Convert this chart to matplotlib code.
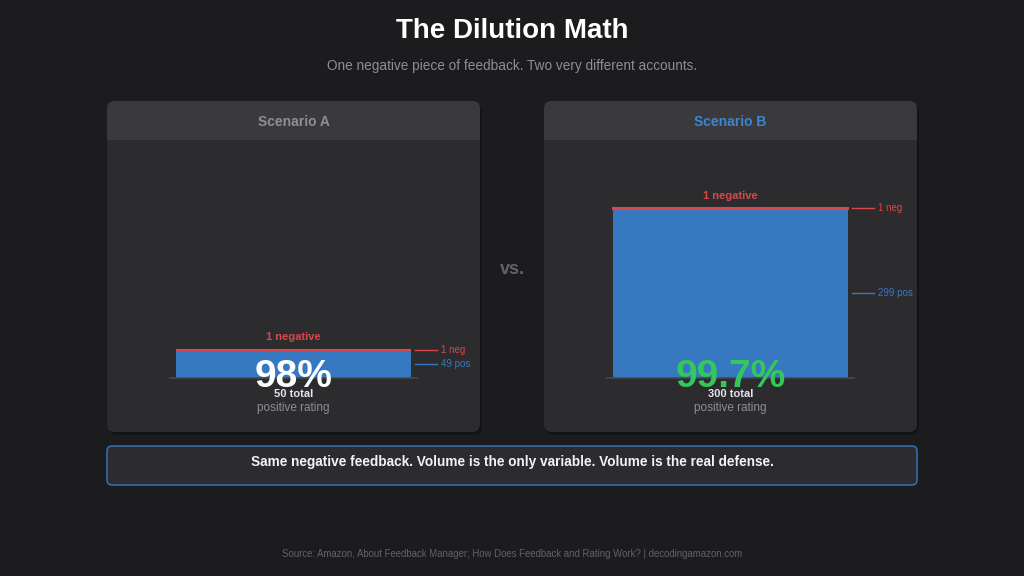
import matplotlib
matplotlib.use("Agg")
import matplotlib.pyplot as plt
from matplotlib.patches import FancyBboxPatch, Rectangle

plt.rcParams['font.family'] = ['Liberation Sans', 'DejaVu Sans']

# data
scenarios = ["Scenario A", "Scenario B"]
negatives = [1, 1]
positives = [49, 299]
ratings = ["98%", "99.7%"]

BG = '#1c1c1e'
PANEL = '#2c2c2e'
HEADER = '#3a3a3c'
BLUE = '#3679c1'
RED = '#d9474c'
GREEN = '#34c759'
GRAY = '#8e8e93'
DIM = '#636366'

fig = plt.figure(figsize=(10.24, 5.76), dpi=100, facecolor=BG)
bg = fig.add_axes([0, 0, 1, 1])
bg.set_xlim(0, 1024)
bg.set_ylim(576, 0)
bg.axis('off')

bg.text(512, 31, "The Dilution Math", ha='center', va='center', fontsize=20,
        fontweight='bold', color='white')
bg.text(512, 66, "One negative piece of feedback. Two very different accounts.",
        ha='center', va='center', fontsize=9.8, color=GRAY)

panel_x = [107, 544]
panel_w = 373
top, head_h, bottom = 101, 39, 432
title_colors = [GRAY, '#3a86d4']
pct_colors = ['white', GREEN]

def px_to_fig(x0, y0, w, h):
    return [x0 / 1024, 1 - (y0 + h) / 576, w / 1024, h / 576]

for i, name in enumerate(scenarios):
    x0 = panel_x[i]
    # shadow + panel
    bg.add_patch(FancyBboxPatch((x0 + 2, top + 3), panel_w, bottom - top,
                                boxstyle="round,pad=0,rounding_size=8",
                                fc='#141416', ec='none', zorder=1))
    bg.add_patch(FancyBboxPatch((x0, top), panel_w, bottom - top,
                                boxstyle="round,pad=0,rounding_size=8",
                                fc=PANEL, ec='none', zorder=2))
    bg.add_patch(FancyBboxPatch((x0, top), panel_w, head_h,
                                boxstyle="round,pad=0,rounding_size=8",
                                fc=HEADER, ec='none', zorder=3))
    bg.add_patch(Rectangle((x0, top + head_h - 12), panel_w, 12,
                           fc=HEADER, ec='none', zorder=3))
    bg.text(x0 + panel_w / 2, top + head_h / 2 + 1, name, ha='center', va='center',
            fontsize=10, fontweight='bold', color=title_colors[i], zorder=4)

    # bar axes over panel body; shared scale: 300 units = 170 px
    body_top = top + head_h
    ax = fig.add_axes(px_to_fig(x0, body_top, panel_w, bottom - body_top))
    ax.set_facecolor('none')
    ax.axis('off')
    upp = 300 / 170
    ax.set_xlim(0, panel_w)
    ax.set_ylim(-(bottom - 378) * upp, (378 - body_top) * upp)
    cx = panel_w / 2
    bw = 235
    pos, neg = positives[i], negatives[i]
    total = pos + neg
    ax.bar(cx, pos, width=bw, color=BLUE, zorder=2)
    ax.bar(cx, neg, width=bw, bottom=pos, color=RED, edgecolor=RED,
           linewidth=1.5, zorder=3)
    ax.plot([cx - bw / 2 - 6, cx + bw / 2 + 6], [0, 0], color='#48484a',
            lw=1.2, zorder=4)

    ax.annotate(f"{neg} negative", (cx, total), xytext=(0, 8.8),
                textcoords='offset points', ha='center', va='center',
                fontsize=8, fontweight='bold', color=RED)
    # side labels
    rx = cx + bw / 2 + 4
    for yv, lab, col in [(total, f"{neg} neg", RED), (pos / 2, f"{pos} pos", BLUE)]:
        ax.plot([rx, rx + 22], [yv, yv], color=col, lw=1, clip_on=False)
        ax.text(rx + 26, yv, lab, ha='left', va='center', fontsize=7, color=col)

    ax.annotate(ratings[i], (cx, 0), xytext=(0, 1), textcoords='offset points',
                ha='center', va='center', fontsize=28, fontweight='bold',
                color=pct_colors[i], zorder=5)
    ax.annotate(f"{total} total", (cx, 0), xytext=(0, -11.5), textcoords='offset points',
                ha='center', va='center', fontsize=8, fontweight='bold',
                color='#e5e5ea', zorder=6)
    ax.annotate("positive rating", (cx, 0), xytext=(0, -21.8), textcoords='offset points',
                ha='center', va='center', fontsize=8.5, color=GRAY, zorder=6)

bg.text(512, 270, "vs.", ha='center', va='center', fontsize=13,
        fontweight='bold', color=DIM)

# callout
bg.add_patch(FancyBboxPatch((107, 446), 810, 39, boxstyle="round,pad=0,rounding_size=5",
                            fc=PANEL, ec='#3a78c0', lw=1, zorder=2))
bg.text(512, 462, "Same negative feedback. Volume is the only variable. Volume is the real defense.",
        ha='center', va='center', fontsize=9.8, fontweight='bold', color='#f2f2f7', zorder=3)

bg.text(512, 554, "Source: Amazon, About Feedback Manager; How Does Feedback and Rating Work? | decodingamazon.com",
        ha='center', va='center', fontsize=6.9, color=DIM)

fig.savefig("out.png", dpi=100, facecolor=BG)
